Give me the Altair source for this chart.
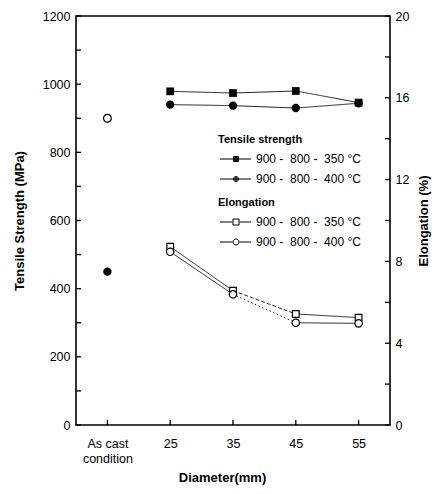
import altair as alt
import pandas as pd

# ---- data ----
categories = ["As cast", "25", "35", "45", "55"]
diameters = ["25", "35", "45", "55"]
ts_350 = [979, 974, 980, 946]          # Tensile strength, 900-800-350 °C (MPa)
ts_400 = [940, 937, 930, 944]          # Tensile strength, 900-800-400 °C (MPa)
el_350 = [8.72, 6.57, 5.43, 5.25]      # Elongation, 900-800-350 °C (%)
el_400 = [8.47, 6.39, 5.00, 4.97]      # Elongation, 900-800-400 °C (%)
ascast_ts = [450]                      # As cast tensile strength (MPa)
ascast_el = [15.0]                     # As cast elongation (%)

left_ticks = [0, 100, 200, 300, 400, 500, 600, 700, 800, 900, 1000, 1100, 1200]
left_labels = [0, 200, 400, 600, 800, 1000, 1200]
right_ticks = [0, 2, 4, 6, 8, 10, 12, 14, 16, 18, 20]
right_labels = [0, 4, 8, 12, 16, 20]

label_350 = "900 -\u00a0 800 -\u00a0 350 \u00b0C"
label_400 = "900 -\u00a0 800 -\u00a0 400 \u00b0C"

FONT = "Liberation Sans"
W, H = 314, 409
LBL = 12.5

# segment line styles (per consecutive pair of diameters)
sty_ts350 = ["solid", "solid", "solid"]
sty_ts400 = ["solid", "solid", "solid"]
sty_el350 = ["solid", "dash", "solid"]
sty_el400 = ["solid", "dot", "solid"]


def seg_df(vals, styles):
    rows = []
    for i in range(len(vals) - 1):
        rows.append({"d": diameters[i], "d2": diameters[i + 1],
                     "v": vals[i], "v2": vals[i + 1], "s": styles[i]})
    return pd.DataFrame(rows)


def pt_df(cats, vals):
    return pd.DataFrame({"d": cats, "v": vals})


xscale = alt.Scale(domain=categories, type="point", padding=0.5)
xaxis = alt.Axis(
    labelExpr="datum.value == 'As cast' ? ['As cast', 'condition'] : datum.value",
    labelAngle=0, tickSize=0, domain=False, grid=False, labelPadding=12,
    labelFontSize=LBL, labelFont=FONT, labelColor="black", labelLineHeight=15,
    title="Diameter(mm)", titleFont=FONT, titleFontSize=13, titleFontWeight="bold",
    titleColor="black", titlePadding=7, titleX=146,
)


def X():
    return alt.X("d:N", scale=xscale, axis=xaxis)


dash = alt.StrokeDash("s:N", scale=alt.Scale(domain=["solid", "dash", "dot"],
                                              range=[[1, 0], [4, 2], [1.5, 2.5]]),
                      legend=None)

# ---- axes ----
yL_scale = alt.Scale(domain=[0, 1200])
yL_axis = alt.Axis(values=left_labels, format="d", tickSize=0, domain=False, grid=False,
                   labelPadding=6, labelFontSize=LBL, labelFont=FONT, labelColor="black",
                   title="Tensile Strength (MPa)", titleFont=FONT, titleFontSize=13,
                   titleFontWeight="bold", titleColor="black", titlePadding=16)


def YL(field="v"):
    return alt.Y(f"{field}:Q", scale=yL_scale, axis=yL_axis)


yR_scale = alt.Scale(domain=[0, 20])
yR_axis = alt.Axis(orient="right", values=right_labels, format="d", tickSize=0,
                   domain=False, grid=False, labelPadding=5, labelFontSize=LBL,
                   labelFont=FONT, labelColor="black", title="Elongation (%)",
                   titleFont=FONT, titleFontSize=13, titleFontWeight="bold",
                   titleColor="black", titlePadding=22, titleAngle=270)


def YR(field="v"):
    return alt.Y(f"{field}:Q", scale=yR_scale, axis=yR_axis)


def seg_layer(vals, styles, Y):
    return alt.Chart(seg_df(vals, styles)).mark_rule(color="#222", strokeWidth=1).encode(
        x=X(), x2="d2:N", y=Y(), y2="v2:Q", strokeDash=dash)


# legend symbol paths (unit = sqrt(size)/2 px); filled markers drawn as nested rings
line_full = "M-0.8,0L5.4,0"
line_gap = "M-0.8,0L1.7,0M3.1,0L5.4,0"


def sq(h):
    return f"M{2.4-h:.2f},{-h:.2f}L{2.4+h:.2f},{-h:.2f}L{2.4+h:.2f},{h:.2f}L{2.4-h:.2f},{h:.2f}Z"


def ci(r):
    return f"M{2.4-r:.2f},0A{r},{r} 0 1 0 {2.4+r:.2f},0A{r},{r} 0 1 0 {2.4-r:.2f},0Z"


sq_filled = line_full + sq(0.5) + sq(0.3) + sq(0.1)
ci_filled = line_full + ci(0.5) + ci(0.3) + ci(0.1)
sq_open = line_gap + sq(0.6)
ci_open = line_gap + ci(0.6)


def legend(title, ly):
    return alt.Legend(title=title, orient="none", legendX=142, legendY=ly,
                      padding=0, titleFont=FONT, titleFontSize=11, titleFontWeight="bold",
                      titleColor="black", titleAnchor="start", titleAlign="left",
                      titlePadding=8, labelFont=FONT, labelFontSize=12,
                      labelColor="black", labelOffset=26, rowPadding=8,
                      symbolSize=100, symbolStrokeWidth=1, symbolStrokeColor="black",
                      symbolOpacity=1)


ts_legend = alt.Chart(pd.DataFrame({"lab": [label_350, label_400]})).mark_point(
    filled=False, color="black", strokeWidth=1, size=100, clip=True).encode(
    x=alt.value(-200), y=alt.value(-200),
    shape=alt.Shape("lab:N", scale=alt.Scale(domain=[label_350, label_400],
                                             range=[sq_filled, ci_filled]),
                    legend=legend("Tensile strength", 118)))

el_legend = alt.Chart(pd.DataFrame({"lab": [label_350, label_400]})).mark_point(
    filled=False, color="black", strokeWidth=1, size=100, clip=True).encode(
    x=alt.value(-200), y=alt.value(-200),
    shape=alt.Shape("lab:N", scale=alt.Scale(domain=[label_350, label_400],
                                             range=[sq_open, ci_open]),
                    legend=legend("Elongation", 181)))

left_tick_layer = alt.Chart(pd.DataFrame({"v": left_ticks})).mark_rule(
    color="black", strokeWidth=1.3).encode(y=YL(), x=alt.value(0), x2=alt.value(5))

x_tick_layer = alt.Chart(pd.DataFrame({"d": categories})).mark_rule(
    color="black", strokeWidth=1.3).encode(x=X(), y=alt.value(H), y2=alt.value(H - 5))

right_tick_layer = alt.Chart(pd.DataFrame({"v": right_ticks})).mark_rule(
    color="black", strokeWidth=1.3).encode(y=YR(), x=alt.value(W - 5), x2=alt.value(W))

tensile = alt.layer(
    left_tick_layer,
    x_tick_layer,
    seg_layer(ts_350, sty_ts350, YL),
    seg_layer(ts_400, sty_ts400, YL),
    alt.Chart(pt_df(diameters, ts_350)).mark_point(
        shape="square", filled=True, color="black", size=60, opacity=1).encode(x=X(), y=YL()),
    alt.Chart(pt_df(diameters, ts_400)).mark_point(
        shape="circle", filled=True, color="black", size=70, opacity=1).encode(x=X(), y=YL()),
    alt.Chart(pt_df(["As cast"], ascast_ts)).mark_point(
        shape="circle", filled=True, color="black", size=70, opacity=1).encode(x=X(), y=YL()),
    ts_legend,
)

elong = alt.layer(
    right_tick_layer,
    seg_layer(el_350, sty_el350, YR),
    seg_layer(el_400, sty_el400, YR),
    alt.Chart(pt_df(diameters, el_350)).mark_point(
        shape="square", filled=False, fill="white", stroke="black", strokeWidth=1.2,
        size=45, opacity=1).encode(x=X(), y=YR()),
    alt.Chart(pt_df(diameters, el_400)).mark_point(
        shape="circle", filled=False, fill="white", stroke="black", strokeWidth=1.2,
        size=55, opacity=1).encode(x=X(), y=YR()),
    alt.Chart(pt_df(["As cast"], ascast_el)).mark_point(
        shape="circle", filled=False, fill="white", stroke="black", strokeWidth=1.2,
        size=60, opacity=1).encode(x=X(), y=YR()),
    el_legend,
)

chart = alt.layer(tensile, elong).resolve_scale(
    y="independent", shape="independent"
).properties(
    width=W, height=H,
    autosize=alt.AutoSizeParams(type="none"),
    padding={"left": 68, "top": 8, "right": 42, "bottom": 61},
    background="white",
).configure_view(stroke="black", strokeWidth=1.6)

chart.save("out.html", embed_options={"renderer": "svg", "actions": False})
